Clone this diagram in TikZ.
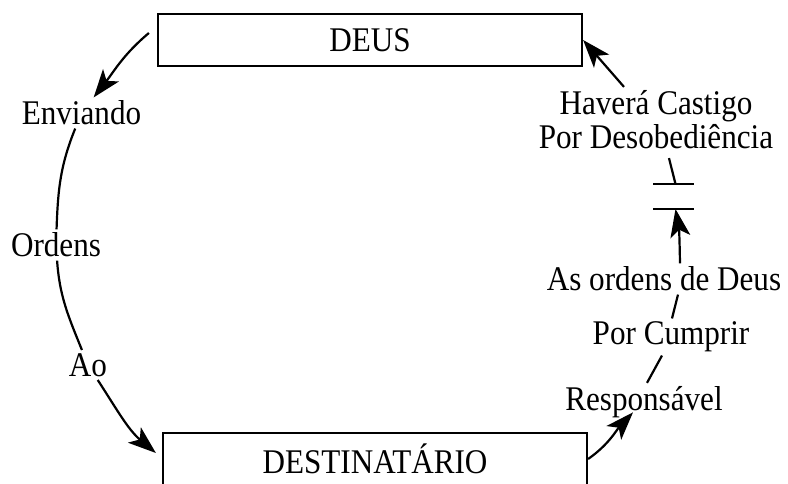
\documentclass[tikz,border=0pt]{standalone}
\usepackage{fontspec}
\setmainfont{Liberation Serif}[FakeStretch=0.9]
\usetikzlibrary{arrows.meta}

\begin{document}
\begin{tikzpicture}[x=0.5pt,y=0.5pt,font=\fontsize{17.3}{17}\selectfont,
  box/.style={draw,line width=1.1pt,minimum width=212pt,minimum height=26pt,inner sep=0pt},
  lbl/.style={inner sep=1.5pt,align=center},
  link/.style={line width=1.1pt},
  arr/.style={link,-{Stealth[length=14pt,width=10pt,inset=3.5pt]}}]
\useasboundingbox (0,0) rectangle (788,483);
\clip (0,0) rectangle (788,483);

\draw (370,443) node[box] (deus) {DEUS};
\draw (375,24) node[box] (dest) {DESTINATÁRIO};

% left side, going down
\draw (81.5,370) node[lbl] (enviando) {Enviando} (56,238) node[lbl] (ordens) {Ordens} (88,118) node[lbl] (ao) {Ao};
\draw[arr] ([xshift=-4pt,yshift=3.5pt]deus.west) to[out=-140,in=52] (enviando);
\draw[link] (enviando) to[out=-112,in=88] (ordens);
\draw[link] (ordens) to[out=-86,in=112] (ao);
\draw[arr] (ao) to[out=-57,in=140] ([xshift=-3pt,yshift=3pt]dest.west);

% right side, going up
\draw (644,81) node[lbl] (resp) {Responsável} (671,146) node[lbl] (cumprir) {Por Cumprir} (664,204) node[lbl] (asordens) {As ordens de Deus};
\draw (656,363.5) node[lbl] (castigo) {Haverá Castigo\\Por Desobediência};
\coordinate (gapt) at (673.5,299);
\coordinate (gapb) at (673.5,274);
\draw[link] ([xshift=-10.25pt]gapt) -- ([xshift=10.25pt]gapt);
\draw[link] ([xshift=-10.25pt]gapb) -- ([xshift=10.25pt]gapb);

\draw[arr] (dest.east) to[out=35,in=-133] ([xshift=-5.5pt,yshift=-1pt]resp.base);
\draw[link] ([xshift=1.5pt]resp.north) -- ([xshift=-4.5pt]cumprir.south);
\draw[link] ([xshift=0.5pt]cumprir.north) -- ([xshift=7pt]asordens.south);
\draw[arr] ([xshift=8pt]asordens.north) to[out=91,in=-80] ([xshift=1pt]gapb);
\draw[link] ([xshift=6.5pt,yshift=-3pt]castigo.south) -- ([xshift=1pt]gapt);
\draw[arr] ([xshift=-16pt]castigo.north) -- (deus.east);
\end{tikzpicture}
\end{document}
